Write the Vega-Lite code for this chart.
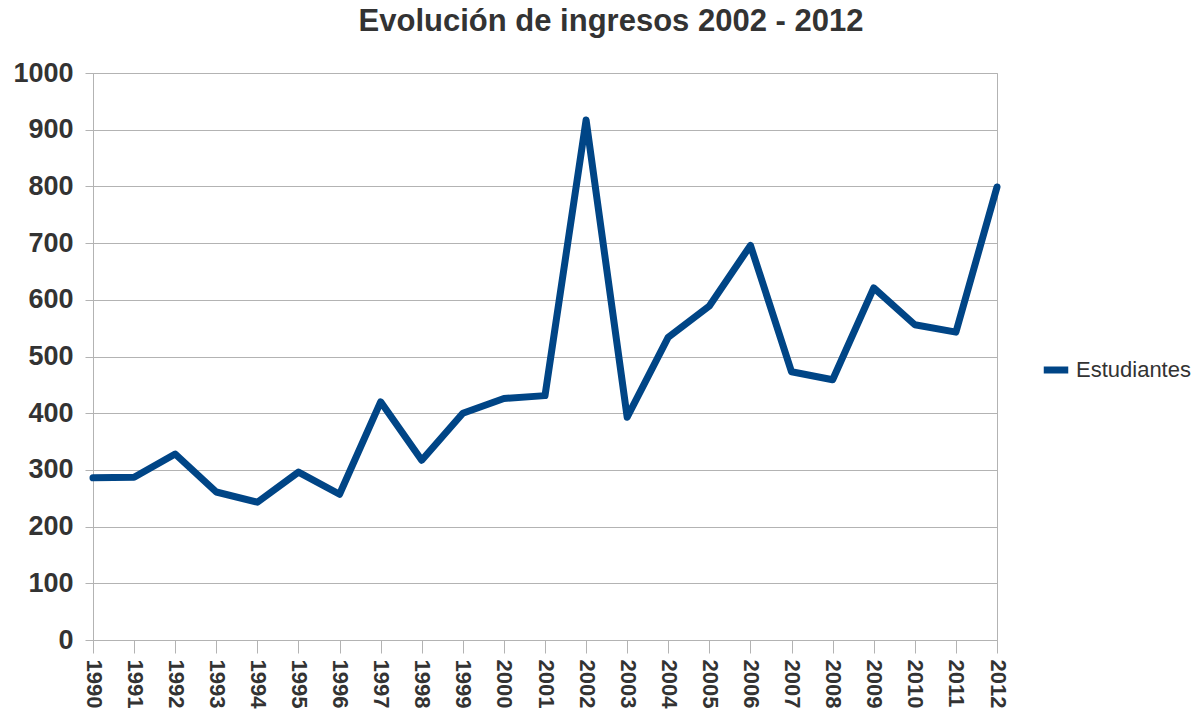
{
  "$schema": "https://vega.github.io/schema/vega-lite/v6.json",
  "autosize": "none",
  "width": 904,
  "height": 567,
  "padding": {"left": 93, "top": 73, "right": 204, "bottom": 75},
  "background": "white",
  "title": {
    "text": "Evolución de ingresos 2002 - 2012",
    "font": "Liberation Sans",
    "fontSize": 31,
    "fontWeight": "bold",
    "color": "#333333",
    "anchor": "middle",
    "frame": "group",
    "dx": 66,
    "offset": 21
  },
  "data": {
    "values": [
      {"year": "1990", "serie": "Estudiantes", "value": 286},
      {"year": "1991", "serie": "Estudiantes", "value": 287},
      {"year": "1992", "serie": "Estudiantes", "value": 328},
      {"year": "1993", "serie": "Estudiantes", "value": 261},
      {"year": "1994", "serie": "Estudiantes", "value": 243},
      {"year": "1995", "serie": "Estudiantes", "value": 296},
      {"year": "1996", "serie": "Estudiantes", "value": 257},
      {"year": "1997", "serie": "Estudiantes", "value": 420},
      {"year": "1998", "serie": "Estudiantes", "value": 317},
      {"year": "1999", "serie": "Estudiantes", "value": 400},
      {"year": "2000", "serie": "Estudiantes", "value": 426},
      {"year": "2001", "serie": "Estudiantes", "value": 431},
      {"year": "2002", "serie": "Estudiantes", "value": 917},
      {"year": "2003", "serie": "Estudiantes", "value": 393},
      {"year": "2004", "serie": "Estudiantes", "value": 534},
      {"year": "2005", "serie": "Estudiantes", "value": 589},
      {"year": "2006", "serie": "Estudiantes", "value": 696},
      {"year": "2007", "serie": "Estudiantes", "value": 473},
      {"year": "2008", "serie": "Estudiantes", "value": 459},
      {"year": "2009", "serie": "Estudiantes", "value": 621},
      {"year": "2010", "serie": "Estudiantes", "value": 556},
      {"year": "2011", "serie": "Estudiantes", "value": 543},
      {"year": "2012", "serie": "Estudiantes", "value": 799}
    ]
  },
  "mark": {"type": "line", "strokeWidth": 7, "strokeJoin": "round", "strokeCap": "round"},
  "encoding": {
    "x": {
      "field": "year",
      "type": "ordinal",
      "scale": {"type": "point", "padding": 0},
      "axis": {
        "title": null,
        "labelAngle": 90,
        "labelAlign": "left",
        "labelBaseline": "middle",
        "labelFont": "Liberation Sans",
        "labelFontSize": 22,
        "labelFontWeight": "bold",
        "labelColor": "#333333",
        "labelPadding": 6,
        "tickSize": 13,
        "tickColor": "#b3b3b3",
        "domainColor": "#b3b3b3",
        "grid": false
      }
    },
    "y": {
      "field": "value",
      "type": "quantitative",
      "scale": {"domain": [0, 1000], "nice": false},
      "axis": {
        "title": null,
        "format": "d",
        "values": [0, 100, 200, 300, 400, 500, 600, 700, 800, 900, 1000],
        "labelFont": "Liberation Sans",
        "labelFontSize": 27,
        "labelFontWeight": "bold",
        "labelColor": "#333333",
        "labelPadding": 12,
        "tickSize": 8,
        "tickColor": "#b3b3b3",
        "domainColor": "#b3b3b3",
        "gridColor": "#b3b3b3",
        "grid": true
      }
    },
    "color": {
      "field": "serie",
      "type": "nominal",
      "scale": {"range": ["#004586"]},
      "legend": {
        "title": null,
        "orient": "none",
        "legendX": 947,
        "legendY": 281,
        "symbolType": "stroke",
        "symbolStrokeWidth": 7,
        "symbolSize": 600,
        "labelFont": "Liberation Sans",
        "labelFontSize": 22,
        "labelColor": "#333333",
        "labelOffset": 4
      }
    }
  },
  "config": {
    "view": {"stroke": "#b3b3b3"}
  }
}
